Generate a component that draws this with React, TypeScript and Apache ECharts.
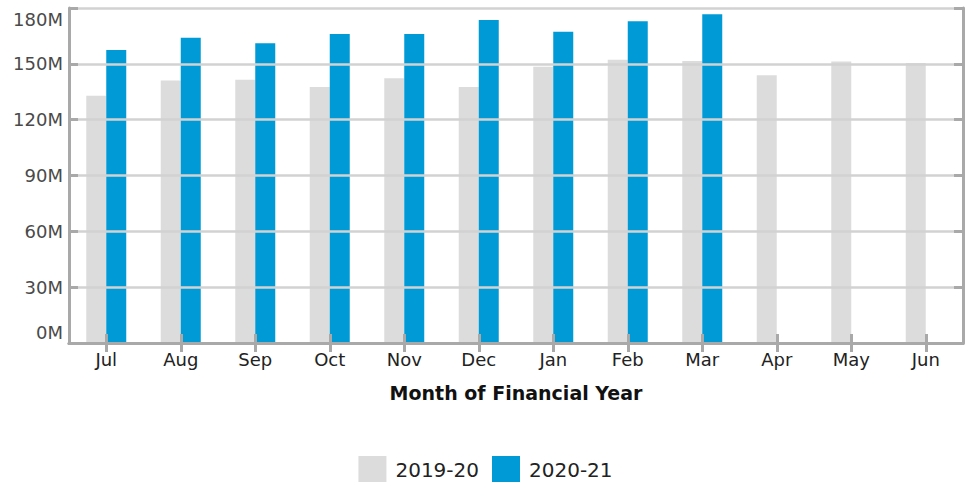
import React, { useEffect, useRef } from "react";
import * as echarts from "echarts";

const months = ["Jul", "Aug", "Sep", "Oct", "Nov", "Dec", "Jan", "Feb", "Mar", "Apr", "May", "Jun"];
const fy1920 = [132.9, 141, 141.5, 137.6, 142.3, 137.6, 148.4, 152.2, 151.5, 143.9, 151.2, 150.5];
const fy2021 = [157.4, 164, 161, 166, 166, 173.5, 167.3, 172.9, 176.6, null, null, null];
const yTicks = { min: 0, max: 180, interval: 30 };

const FONT = "DejaVu Sans, Verdana, sans-serif";
const AXIS = "#a9a9a9";

export default function App() {
  const ref = useRef<HTMLDivElement>(null);
  useEffect(() => {
    if (!ref.current) return;
    const chart = echarts.init(ref.current, undefined, { renderer: "svg" });
    const tick = { show: true, inside: true, length: 9, lineStyle: { color: AXIS, width: 3 } };
    const line = { show: true, lineStyle: { color: AXIS, width: 3 } };
    chart.setOption({
      animation: false,
      textStyle: { fontFamily: FONT },
      grid: { left: 69, right: 8, top: 8, bottom: 139, containLabel: false },
      legend: {
        top: 451,
        left: "center",
        itemWidth: 28,
        itemHeight: 28,
        itemGap: 13,
        icon: "rect",
        textStyle: { fontSize: 20, color: "#222", fontFamily: FONT, padding: [0, 0, 0, 4] },
        data: ["2019-20", "2020-21"],
      },
      xAxis: [
        {
          type: "category",
          data: months,
          position: "bottom",
          axisLine: line,
          axisTick: { ...tick, alignWithLabel: true },
          axisLabel: { fontSize: 18, color: "#222", margin: 7 },
          name: "Month of Financial Year",
          nameLocation: "middle",
          nameGap: 40,
          nameTextStyle: { fontSize: 19, fontWeight: "bold", color: "#111" },
          z: 5,
        },
        {
          type: "category",
          data: months,
          position: "top",
          axisLine: line,
          axisTick: { ...tick, alignWithLabel: true },
          axisLabel: { show: false },
          z: 5,
        },
      ],
      yAxis: [
        {
          type: "value",
          ...yTicks,
          position: "left",
          axisLine: line,
          axisTick: tick,
          splitLine: { show: true, lineStyle: { color: "#d2d2d2", width: 2.5 } },
          axisLabel: {
            fontSize: 18,
            color: "#4a4a4a",
            margin: 6,
            formatter: (v: number) =>
              v === 0 ? "{b|0M}" : v === 180 ? "{t|180M}" : "{n|" + v + "M}",
            rich: {
              b: { fontSize: 18, color: "#4a4a4a", padding: [0, 0, 22, 0] },
              t: { fontSize: 18, color: "#4a4a4a", padding: [22, 0, 0, 0] },
              n: { fontSize: 18, color: "#4a4a4a" },
            },
          },
          z: 5,
        },
        {
          type: "value",
          ...yTicks,
          position: "right",
          axisLine: line,
          axisTick: tick,
          splitLine: { show: false },
          axisLabel: { show: false },
          z: 5,
        },
      ],
      series: [
        {
          name: "2019-20",
          type: "bar",
          data: fy1920,
          barWidth: 20,
          barGap: "0%",
          itemStyle: { color: "#dcdcdc" },
        },
        {
          name: "2020-21",
          type: "bar",
          data: fy2021,
          barWidth: 20,
          barGap: "0%",
          itemStyle: { color: "#009ad6" },
        },
      ],
    });
    return () => chart.dispose();
  }, []);
  return (
    <div
      ref={ref}
      style={{ position: "absolute", left: 0, top: 0, width: 971, height: 482 }}
    />
  );
}
